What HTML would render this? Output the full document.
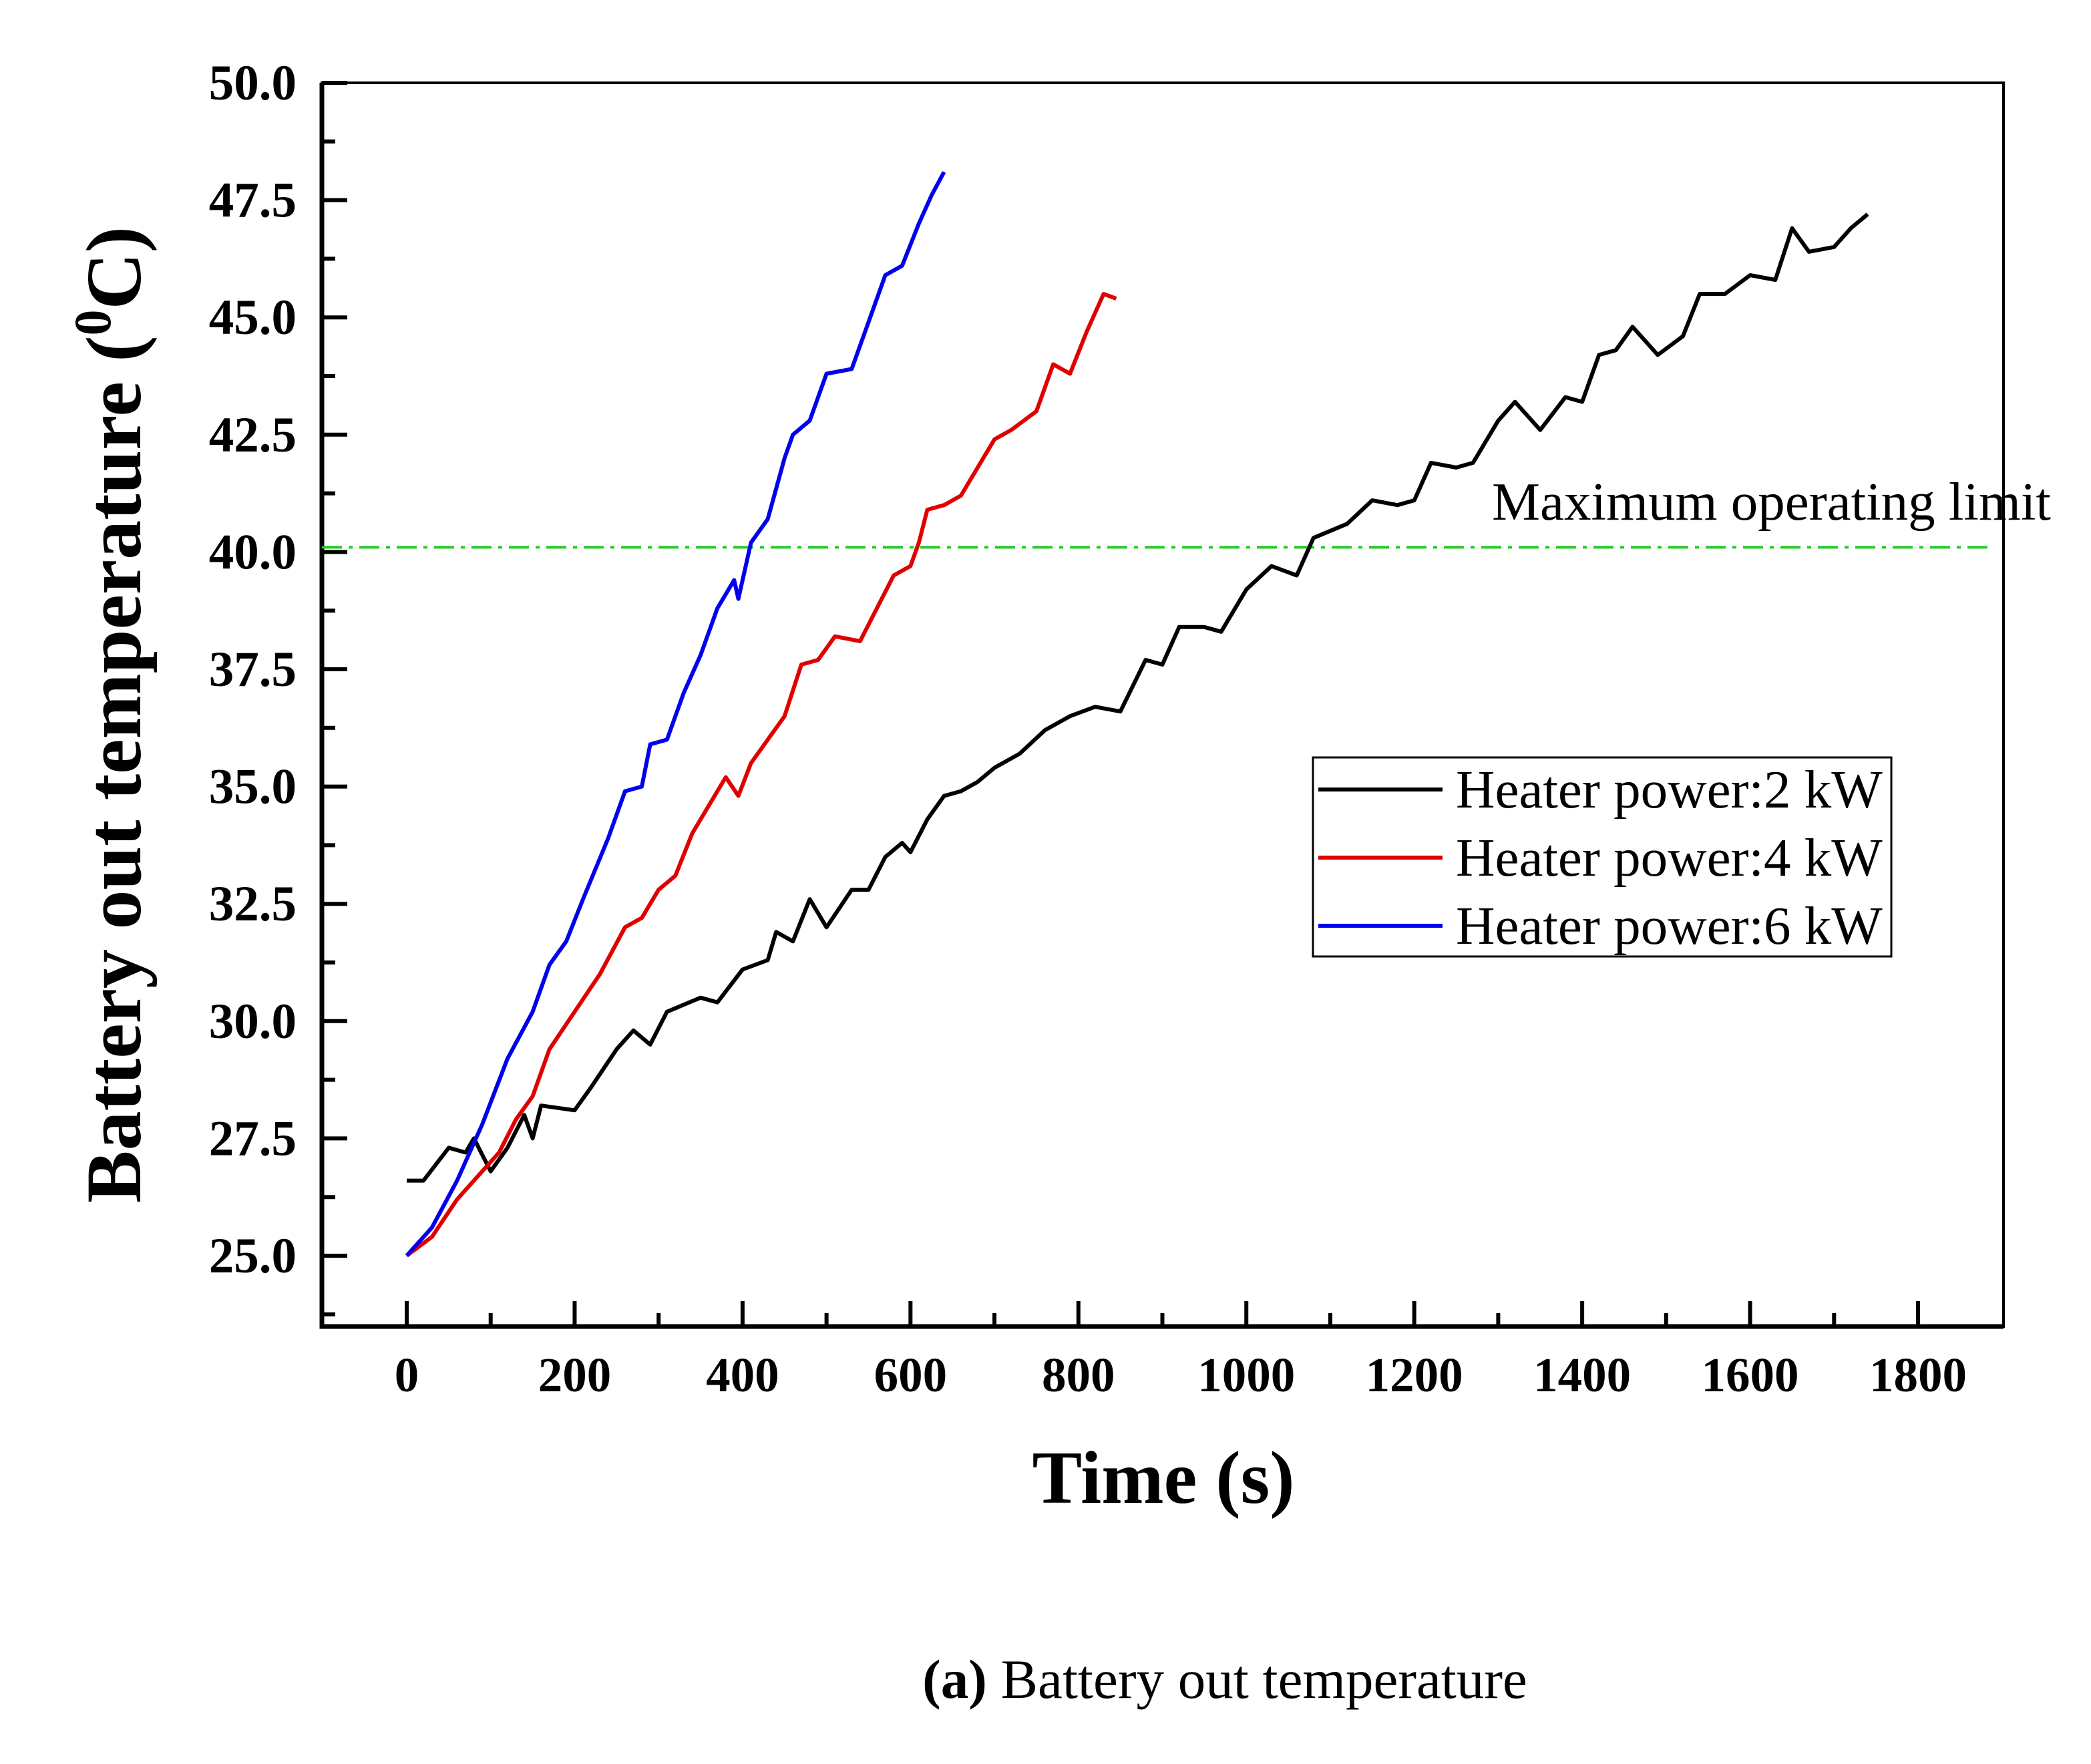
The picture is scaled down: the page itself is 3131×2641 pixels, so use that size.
<!DOCTYPE html>
<html><head><meta charset="utf-8"><style>body{margin:0;background:#fff}svg{display:block}</style></head>
<body>
<svg id="chart" width="3131" height="2641" viewBox="0 0 3131 2641" xmlns="http://www.w3.org/2000/svg" font-family="'Liberation Serif', serif">
<g id="plot"></g>
</svg>
<script>
const xTicks=[0,200,400,600,800,1000,1200,1400,1600,1800];
const yTicks=[25.0,27.5,30.0,32.5,35.0,37.5,40.0,42.5,45.0,47.5,50.0];
const t2=[0,20,50,70,80,100,120,140,150,160,200,220,250,270,290,310,350,370,400,430,440,460,480,500,530,550,570,590,600,620,640,660,680,700,730,760,790,820,850,880,900,920,950,970,1000,1030,1060,1080,1120,1150,1180,1200,1220,1250,1270,1300,1320,1350,1380,1400,1420,1440,1460,1490,1520,1540,1570,1600,1630,1650,1670,1700,1720,1740];
const v2=[26.6,26.6,27.3,27.2,27.5,26.8,27.3,28.0,27.5,28.2,28.1,28.6,29.4,29.8,29.5,30.2,30.5,30.4,31.1,31.3,31.9,31.7,32.6,32.0,32.8,32.8,33.5,33.8,33.6,34.3,34.8,34.9,35.1,35.4,35.7,36.2,36.5,36.7,36.6,37.7,37.6,38.4,38.4,38.3,39.2,39.7,39.5,40.3,40.6,41.1,41.0,41.1,41.9,41.8,41.9,42.8,43.2,42.6,43.3,43.2,44.2,44.3,44.8,44.2,44.6,45.5,45.5,45.9,45.8,46.9,46.4,46.5,46.9,47.2];
const t4=[0,30,60,90,110,130,150,170,200,230,260,280,300,320,340,360,380,395,410,430,450,470,490,510,540,560,580,600,610,620,640,660,680,700,720,750,770,790,810,830,845];
const v4=[25.0,25.4,26.2,26.8,27.2,27.9,28.4,29.4,30.2,31.0,32.0,32.2,32.8,33.1,34.0,34.6,35.2,34.8,35.5,36.0,36.5,37.6,37.7,38.2,38.1,38.8,39.5,39.7,40.2,40.9,41.0,41.2,41.8,42.4,42.6,43.0,44.0,43.8,44.7,45.5,45.4];
const t6=[0,30,60,90,120,150,170,190,210,240,260,280,290,310,330,350,370,390,395,410,430,450,460,480,500,530,550,570,590,610,625,640];
const v6=[25.0,25.6,26.6,27.8,29.2,30.2,31.2,31.7,32.6,33.9,34.9,35.0,35.9,36.0,37.0,37.8,38.8,39.4,39.0,40.2,40.7,42.0,42.5,42.8,43.8,43.9,44.9,45.9,46.1,47.0,47.6,48.1];
const limitValue=40.1;
const seriesNames=["Heater power:2 kW","Heater power:4 kW","Heater power:6 kW"];

const NS="http://www.w3.org/2000/svg";
const L=482,R=3000,T=124,B=1986;
const X=v=>609+v*(2872-609)/1800;
const Y=v=>1880-(v-25)*(1880-124)/25;
const g=document.getElementById('plot');
function mk(tag,at,parent){const e=document.createElementNS(NS,tag);for(const k in at)e.setAttribute(k,at[k]);(parent||g).appendChild(e);return e;}

let fr=mk('rect',{x:L,y:T,width:R-L,height:B-T,fill:'none',stroke:'#000','stroke-width':4});


let ax=mk('path',{d:`M${L} ${T}V${B}H${R}`,fill:'none',stroke:'#000','stroke-width':7});



xTicks.forEach((v,i)=>{
  let t=mk('line',{x1:X(v),x2:X(v),y1:B,y2:B-38,stroke:'#000','stroke-width':6});
  
  
  if(i<xTicks.length-1){let m=mk('line',{x1:X(v+100),x2:X(v+100),y1:B,y2:B-20,stroke:'#000','stroke-width':6});
  
  }
  let tx=mk('text',{x:X(v),y:2083,'text-anchor':'middle','font-size':73,'font-weight':'bold'});
  tx.textContent=v;
  
  
});
yTicks.forEach((v,i)=>{
  let t=mk('line',{x1:L,x2:L+38,y1:Y(v),y2:Y(v),stroke:'#000','stroke-width':6});
  
  
  let m=mk('line',{x1:L,x2:L+20,y1:Y(v-1.25),y2:Y(v-1.25),stroke:'#000','stroke-width':6});
  
  
  let tx=mk('text',{x:444,y:Y(v)+25,'text-anchor':'end','font-size':75,'font-weight':'bold'});
  tx.textContent=v.toFixed(1);
  
  
});

let lim=mk('line',{x1:L,x2:2982,y1:Y(limitValue),y2:Y(limitValue),stroke:'#22cc22','stroke-width':4,'stroke-dasharray':'30 10 6 10'});


let lt=mk('text',{x:2234,y:778,'font-size':81});
lt.textContent='Maximum operating limit';



const colors=['#000','#e00000','#0000ee'];
[[t2,v2],[t4,v4],[t6,v6]].forEach((s,i)=>{
  const d=s[0].map((t,j)=>(j?'L':'M')+X(t).toFixed(1)+' '+Y(s[1][j]).toFixed(1)).join('');
  let p=mk('path',{d,fill:'none',stroke:colors[i],'stroke-width':6,'stroke-linejoin':'round'});
  
  
});

let lg=mk('g',{});


mk('rect',{x:1966,y:1134,width:866,height:298,fill:'#fff',stroke:'#000','stroke-width':3},lg);
seriesNames.forEach((n,i)=>{
  const y=1182+i*102;
  let e=mk('g',{},lg);
  
  
  mk('line',{x1:1974,x2:2160,y1:y,y2:y,stroke:colors[i],'stroke-width':6},e);
  let tx=mk('text',{x:2180,y:y+27,'font-size':81},e);
  tx.textContent=n;
});

let xt=mk('text',{x:1742,y:2250,'text-anchor':'middle','font-size':112,'font-weight':'bold'});
xt.textContent='Time (s)';


let yt=mk('text',{x:0,y:0,'text-anchor':'middle','font-size':118,'font-weight':'bold',transform:'translate(210,1070) rotate(-90)'});
yt.innerHTML='Battery out temperature (<tspan dy="-45" font-size="78">0</tspan><tspan dy="45">C)</tspan>';


let cap=mk('text',{x:1834,y:2542,'text-anchor':'middle','font-size':83});
cap.innerHTML='<tspan font-weight="bold">(a)</tspan> Battery out temperature';


</script>
</body></html>
